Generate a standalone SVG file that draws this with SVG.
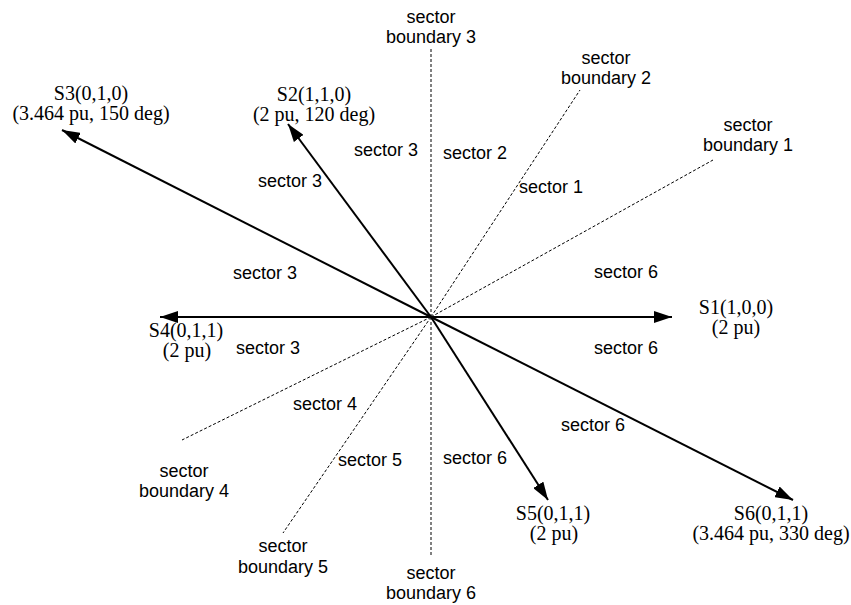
<svg xmlns="http://www.w3.org/2000/svg" width="851" height="605" viewBox="0 0 851 605">
  <style>
    .vec { stroke: #000; stroke-width: 2; fill: none; marker-end: url(#head); }
    .bnd { stroke: #000; stroke-width: 1; stroke-dasharray: 3 2; fill: none; }
    .sec { font-family: "Liberation Sans", Arial, sans-serif; font-size: 18px; fill: #000; text-anchor: middle; }
    .lbl { font-family: "Liberation Serif", "Times New Roman", serif; font-size: 20px; fill: #000; text-anchor: middle; }
  </style>
  <defs>
    <marker id="head" markerUnits="userSpaceOnUse" markerWidth="20" markerHeight="12" refX="18" refY="6" orient="auto">
      <path d="M0,0 L18,6 L0,12 z" fill="#000"/>
    </marker>
  </defs>
  <rect width="851" height="605" fill="#fff"/>

  <!-- sector boundaries and switching vectors -->
  <g id="connectors">
    <line class="bnd" x1="431" y1="317" x2="431" y2="48"/>
    <line class="bnd" x1="431" y1="317" x2="580" y2="90"/>
    <line class="bnd" x1="431" y1="317" x2="713" y2="160"/>
    <line class="bnd" x1="431" y1="317" x2="182" y2="440"/>
    <line class="bnd" x1="431" y1="317" x2="283" y2="533"/>
    <line class="bnd" x1="431" y1="317" x2="431" y2="557"/>

    <line class="vec" x1="431" y1="317" x2="672" y2="317"/>
    <line class="vec" x1="431" y1="317" x2="160" y2="317"/>
    <line class="vec" x1="431" y1="317" x2="62" y2="130"/>
    <line class="vec" x1="431" y1="317" x2="288" y2="124"/>
    <line class="vec" x1="431" y1="317" x2="548" y2="500"/>
    <line class="vec" x1="431" y1="317" x2="793" y2="500"/>
  </g>

  <!-- vector labels -->
  <g id="s1"><text class="lbl" x="736" y="314">S1(1,0,0)</text><text class="lbl" x="736" y="334">(2 pu)</text></g>
  <g id="s2"><text class="lbl" x="314" y="101">S2(1,1,0)</text><text class="lbl" x="314" y="121">(2 pu, 120 deg)</text></g>
  <g id="s3"><text class="lbl" x="91" y="100">S3(0,1,0)</text><text class="lbl" x="91" y="120">(3.464 pu, 150 deg)</text></g>
  <g id="s4"><text class="lbl" x="186" y="337">S4(0,1,1)</text><text class="lbl" x="187" y="357">(2 pu)</text></g>
  <g id="s5"><text class="lbl" x="553" y="520">S5(0,1,1)</text><text class="lbl" x="554" y="540">(2 pu)</text></g>
  <g id="s6"><text class="lbl" x="771" y="520">S6(0,1,1)</text><text class="lbl" x="771" y="540">(3.464 pu, 330 deg)</text></g>

  <!-- boundary labels -->
  <g id="b1"><text class="sec" x="748" y="131">sector</text><text class="sec" x="748" y="151">boundary 1</text></g>
  <g id="b2"><text class="sec" x="606" y="64">sector</text><text class="sec" x="606" y="84">boundary 2</text></g>
  <g id="b3"><text class="sec" x="431" y="23">sector</text><text class="sec" x="431" y="43">boundary 3</text></g>
  <g id="b4"><text class="sec" x="184" y="477">sector</text><text class="sec" x="184" y="497">boundary 4</text></g>
  <g id="b5"><text class="sec" x="283" y="552">sector</text><text class="sec" x="283" y="573">boundary 5</text></g>
  <g id="b6"><text class="sec" x="431" y="579">sector</text><text class="sec" x="431" y="599">boundary 6</text></g>

  <!-- sector labels -->
  <g id="sectors">
    <text class="sec" x="386" y="156">sector 3</text>
    <text class="sec" x="475" y="159">sector 2</text>
    <text class="sec" x="290" y="187">sector 3</text>
    <text class="sec" x="551" y="193">sector 1</text>
    <text class="sec" x="265" y="279">sector 3</text>
    <text class="sec" x="626" y="278">sector 6</text>
    <text class="sec" x="268" y="354">sector 3</text>
    <text class="sec" x="626" y="354">sector 6</text>
    <text class="sec" x="325" y="410">sector 4</text>
    <text class="sec" x="593" y="431">sector 6</text>
    <text class="sec" x="370" y="466">sector 5</text>
    <text class="sec" x="475" y="464">sector 6</text>
  </g>
</svg>
